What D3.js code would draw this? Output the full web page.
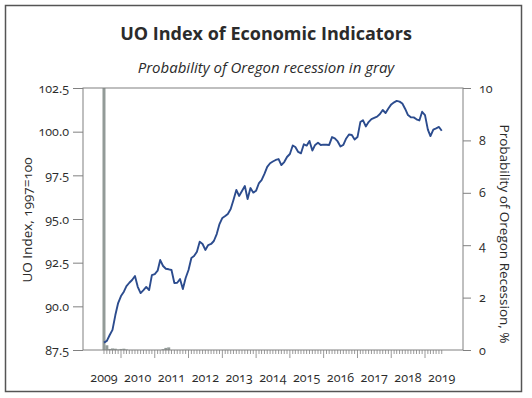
<!DOCTYPE html>
<html>
<head>
<meta charset="utf-8">
<script src="https://d3js.org/d3.v7.min.js"></script>
<style>
  body { margin: 0; background: #fff; }
  text { font-family: "Open Sans", "Noto Sans", sans-serif; fill: #2b2b2b; font-variant-numeric: oldstyle-nums; }
</style>
</head>
<body>
<script>
// monthly series, first month July 2009
var startMonth = "2009-07";

// UO Index (1997=100)
var uoIndex = [
  87.92, 88.02, 88.36, 88.65, 89.50, 90.19, 90.59, 90.84, 91.16, 91.35, 91.51, 91.74,
  91.12, 90.76, 90.93, 91.11, 90.93, 91.79, 91.85, 92.04, 92.65, 92.31, 92.15, 92.12,
  92.08, 91.34, 91.35, 91.56, 90.99, 91.62, 92.08, 92.77, 92.88, 93.13, 93.70, 93.57,
  93.23, 93.51, 93.57, 93.74, 94.14, 94.71, 95.06, 95.17, 95.29, 95.57, 96.09, 96.66,
  96.32, 96.60, 96.89, 96.14, 96.77, 96.51, 96.62, 97.06, 97.23, 97.58, 97.98, 98.19,
  98.29, 98.38, 98.43, 98.09, 98.26, 98.55, 98.72, 99.21, 99.12, 98.84, 98.76, 99.28,
  99.20, 99.47, 98.92, 99.24, 99.37, 99.24, 99.26, 99.25, 99.24, 99.69, 99.62, 99.44,
  99.15, 99.24, 99.61, 99.84, 99.81, 99.55, 99.69, 100.55, 100.66, 100.30, 100.55, 100.72,
  100.79, 100.86, 101.01, 101.24, 101.07, 101.33, 101.56, 101.68, 101.76, 101.72, 101.61, 101.30,
  100.95, 100.82, 100.82, 100.71, 100.64, 101.14, 100.95, 100.12, 99.75, 100.12, 100.19, 100.27,
  100.05
];

// probability of Oregon recession, %
var recessionProb = [
  10.0, 0.18, 0.04, 0.06, 0.05, 0.02, 0.04, 0.05, 0.02, 0, 0, 0,
  0, 0, 0, 0, 0, 0, 0, 0, 0, 0.03, 0.08, 0.10,
  0, 0, 0, 0, 0, 0, 0, 0, 0, 0, 0, 0,
  0, 0, 0, 0, 0, 0, 0, 0, 0, 0, 0, 0,
  0, 0, 0, 0, 0, 0, 0, 0, 0, 0, 0, 0,
  0, 0, 0, 0, 0, 0, 0, 0, 0, 0, 0, 0,
  0, 0, 0, 0, 0, 0, 0, 0, 0, 0, 0, 0,
  0, 0, 0, 0, 0, 0, 0, 0, 0, 0, 0, 0,
  0, 0, 0, 0, 0, 0, 0, 0, 0, 0, 0, 0,
  0, 0, 0, 0, 0, 0, 0, 0, 0, 0, 0, 0,
  0
];

var leftTicks = [87.5, 90, 92.5, 95, 97.5, 100, 102.5];
var rightTicks = [0, 2, 4, 6, 8, 10];
var yearLabels = [2009, 2010, 2011, 2012, 2013, 2014, 2015, 2016, 2017, 2018, 2019];

var W = 532, H = 398;
var plot = { left: 83, right: 463, top: 88, bottom: 350 };

var parseMonth = d3.timeParse("%Y-%m");
var first = parseMonth(startMonth);
var months = uoIndex.map(function (v, i) { return d3.timeMonth.offset(first, i); });

var svg = d3.select("body").append("svg")
  .attr("width", W)
  .attr("height", H);

// outer frame
svg.append("rect")
  .attr("x", 5.5).attr("y", 5.5)
  .attr("width", 516).attr("height", 386)
  .attr("fill", "none")
  .attr("stroke", "#555")
  .attr("stroke-width", 1.5);

// titles
svg.append("text")
  .attr("x", 266).attr("y", 40)
  .attr("text-anchor", "middle")
  .style("font-size", "18px").style("font-weight", "bold")
  .text("UO Index of Economic Indicators");
svg.append("text")
  .attr("x", 266).attr("y", 73)
  .attr("text-anchor", "middle")
  .style("font-size", "15px").style("font-style", "italic")
  .text("Probability of Oregon recession in gray");

var x = d3.scaleTime()
  .domain([new Date(2010, 0, 1), new Date(2019, 0, 1)])
  .range([121, 425]);

var yL = d3.scaleLinear().domain([87.5, 102.5]).range([plot.bottom, plot.top]);
var yR = d3.scaleLinear().domain([0, 10]).range([plot.bottom, plot.top]);

// recession probability bars
svg.append("g")
  .selectAll("rect")
  .data(recessionProb)
  .enter()
  .append("rect")
  .attr("x", function (d, i) { return x(months[i]) - 1.5; })
  .attr("y", function (d) { return yR(d); })
  .attr("width", 3)
  .attr("height", function (d) { return yR(0) - yR(d); })
  .attr("fill", "#939b98");

// plot frame: left/right axis + top/bottom lines
var axisColor = "#808080";
svg.append("rect")
  .attr("x", plot.left).attr("y", plot.top)
  .attr("width", plot.right - plot.left).attr("height", plot.bottom - plot.top)
  .attr("fill", "none").attr("stroke", axisColor).attr("stroke-width", 1);

var gl = svg.append("g")
  .attr("transform", "translate(" + plot.left + ",0)")
  .call(d3.axisLeft(yL).tickValues(leftTicks).tickSize(10).tickPadding(4).tickFormat(d3.format(".1f")));
gl.select(".domain").remove();
gl.selectAll("line").attr("stroke", axisColor);
gl.selectAll("text").style("font-size", "12.5px").style("font-family", null).attr("fill", null);

var gr = svg.append("g")
  .attr("transform", "translate(" + plot.right + ",0)")
  .call(d3.axisRight(yR).tickValues(rightTicks).tickSize(8).tickPadding(8));
gr.select(".domain").remove();
gr.selectAll("line").attr("stroke", axisColor);
gr.selectAll("text").style("font-size", "12.5px").style("font-family", null).attr("fill", null);

// monthly ticks on the time axis, longer at January
svg.append("g")
  .selectAll("line")
  .data(months)
  .enter()
  .append("line")
  .attr("x1", function (d) { return x(d); })
  .attr("x2", function (d) { return x(d); })
  .attr("y1", plot.bottom)
  .attr("y2", function (d) { return plot.bottom + (d.getMonth() === 0 ? 8 : 4); })
  .attr("stroke", axisColor)
  .attr("stroke-width", 0.8);

// year labels at mid-year
svg.append("g")
  .selectAll("text")
  .data(yearLabels)
  .enter()
  .append("text")
  .attr("x", function (d) { return x(new Date(d, 6, 1)); })
  .attr("y", 382)
  .attr("text-anchor", "middle")
  .style("font-size", "12.5px")
  .text(function (d) { return d; });

// index line
var line = d3.line()
  .x(function (d, i) { return x(months[i]); })
  .y(function (d) { return yL(d); });

svg.append("path")
  .datum(uoIndex)
  .attr("d", line)
  .attr("fill", "none")
  .attr("stroke", "#2c4c8e")
  .attr("stroke-width", 1.9)
  .attr("stroke-linejoin", "round");

// axis titles
svg.append("text")
  .attr("transform", "translate(32,220) rotate(-90)")
  .attr("text-anchor", "middle")
  .style("font-size", "13.5px")
  .text("UO Index, 1997=100");

svg.append("text")
  .attr("transform", "translate(500,234) rotate(90)")
  .attr("text-anchor", "middle")
  .style("font-size", "13.5px")
  .text("Probability of Oregon Recession, %");
</script>
</body>
</html>
